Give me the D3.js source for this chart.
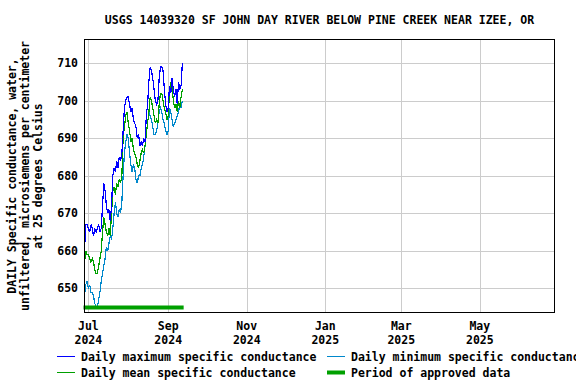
<!DOCTYPE html>
<html><head><meta charset="utf-8">
<script src="https://cdn.jsdelivr.net/npm/d3@7"></script>
<style>
body{margin:0;background:#fff;}
text{font-family:"DejaVu Sans Mono",monospace;font-weight:bold;font-size:11.5px;fill:#000;}
</style></head><body>
<svg id="c" width="576" height="384"></svg>
<script>
const title = "USGS 14039320 SF JOHN DAY RIVER BELOW PINE CREEK NEAR IZEE, OR";
const yLabelLines = ["DAILY Specific conductance, water,", "unfiltered, microsiemens per centimeter", "at 25 degrees Celsius"];
const startDate = "2024-06-28";
const maxVals = [660,667,667,666,665,667,666,664,666,665,666,667,665,666,672,678,676,672,670,671,668,672,680,682,681,684,682,685,684,686,692,698,700,701,701,699,697,698,695,694,693,690,691,688,689,688,690,689,696,699,705,709,708,706,703,700,699,700,706,709,709,708,703,699,697,698,704,702,706,703,701,703,699,705,703,704,710];
const meanVals = [657,660,659,659,658,657,658,657,655,654,654,656,658,660,665,669,667,665,664,666,664,670,676,677,675,678,677,679,678,680,690,693,696,697,694,692,689,690,687,686,685,683,682,684,686,687,686,688,691,694,697,701,700,698,696,694,695,694,699,702,702,700,698,697,695,696,702,705,704,700,698,699,697,700,698,701,703];
const minVals = [648,651,652,650,651,649,649,648,646,645,645,647,649,652,654,656,658,661,660,662,664,663,666,670,673,670,669,671,670,673,680,686,689,691,690,686,683,681,683,682,679,678,680,680,682,683,685,688,691,694,697,696,695,693,691,691,692,694,697,698,697,695,694,692,691,692,698,697,695,693,694,695,696,697,699,698,700];
const approvedPeriod = ["2024-06-28", "2024-09-13"];
const xDomain = ["2024-06-28", "2025-06-28"];
const yDomain = [643.6, 716.3];
const yTicks = [650, 660, 670, 680, 690, 700, 710];
const xTickDates = ["2024-07-01","2024-09-01","2024-11-01","2025-01-01","2025-03-01","2025-05-01"];
const xTickLabels = [["Jul","2024"],["Sep","2024"],["Nov","2024"],["Jan","2025"],["Mar","2025"],["May","2025"]];
const legendItems = [
  {label:"Daily maximum specific conductance", color:"#0000ff", w:1},
  {label:"Daily minimum specific conductance", color:"#0088cc", w:1},
  {label:"Daily mean specific conductance", color:"#00a000", w:1},
  {label:"Period of approved data", color:"#00a000", w:4}
];

const parse = d3.utcParse("%Y-%m-%d");
const svg = d3.select("#c");
const L = 84.5, R = 554.5, T = 39.5, B = 312.5;
const x = d3.scaleUtc().domain(xDomain.map(parse)).range([L, R]);
const y = d3.scaleLinear().domain(yDomain).range([B, T]);
const d0 = parse(startDate);
const day = i => d3.utcDay.offset(d0, i);

// gridlines
svg.append("g").selectAll("line").data(yTicks).join("line")
  .attr("x1", L).attr("x2", R).attr("y1", d => Math.round(y(d))+0.5).attr("y2", d => Math.round(y(d))+0.5)
  .attr("stroke", "#cccccc").attr("stroke-width", 1);
svg.append("g").selectAll("line").data(xTickDates).join("line")
  .attr("y1", T).attr("y2", B).attr("x1", d => Math.round(x(parse(d)))+0.5).attr("x2", d => Math.round(x(parse(d)))+0.5)
  .attr("stroke", "#cccccc").attr("stroke-width", 1);

// series
const line = d3.line().x((d,i) => x(day(i))).y(d => y(d));
[[minVals,"#0088cc"],[meanVals,"#00a000"],[maxVals,"#0000ff"]].forEach(([vals,col]) => {
  svg.append("path").datum(vals).attr("d", line).attr("fill","none").attr("stroke",col)
    .attr("stroke-width",1.2).attr("shape-rendering","crispEdges");
});

// approved period bar
svg.append("line").attr("x1", x(parse(approvedPeriod[0]))-1).attr("x2", x(parse(approvedPeriod[1])))
  .attr("y1", 307.5).attr("y2", 307.5).attr("stroke", "#00a000").attr("stroke-width", 4);

// frame
svg.append("rect").attr("x", L).attr("y", T).attr("width", R-L).attr("height", B-T)
  .attr("fill","none").attr("stroke","#000").attr("stroke-width",1);

// y tick labels
svg.append("g").selectAll("text").data(yTicks).join("text")
  .attr("x", 78).attr("y", d => y(d)+4).attr("text-anchor","end").text(d => d);

// x tick labels
const xl = svg.append("g").selectAll("g").data(xTickDates).join("g")
  .attr("transform", d => `translate(${x(parse(d))},0)`);
xl.append("text").attr("y", 330).attr("text-anchor","middle").text((d,i) => xTickLabels[i][0]);
xl.append("text").attr("y", 344).attr("text-anchor","middle").text((d,i) => xTickLabels[i][1]);

// title
svg.append("text").attr("x", (L+R)/2).attr("y", 24).attr("text-anchor","middle").text(title);

// y axis label
const yl = svg.append("g").attr("transform", `translate(0,${(T+B)/2}) rotate(-90)`);
yLabelLines.forEach((s,i) => yl.append("text").attr("x",0).attr("y", 16 + i*13).attr("text-anchor","middle").text(s));

// legend
const lg = svg.append("g");
legendItems.forEach((it,i) => {
  const col = i % 2, row = Math.floor(i/2);
  const lx = col === 0 ? 57 : 327, ly = row === 0 ? 356.5 : 372.5;
  lg.append("line").attr("x1", lx).attr("x2", lx+18).attr("y1", ly).attr("y2", ly)
    .attr("stroke", it.color).attr("stroke-width", it.w);
  lg.append("text").attr("x", lx+24).attr("y", ly+4).text(it.label);
});
</script>
</body></html>
